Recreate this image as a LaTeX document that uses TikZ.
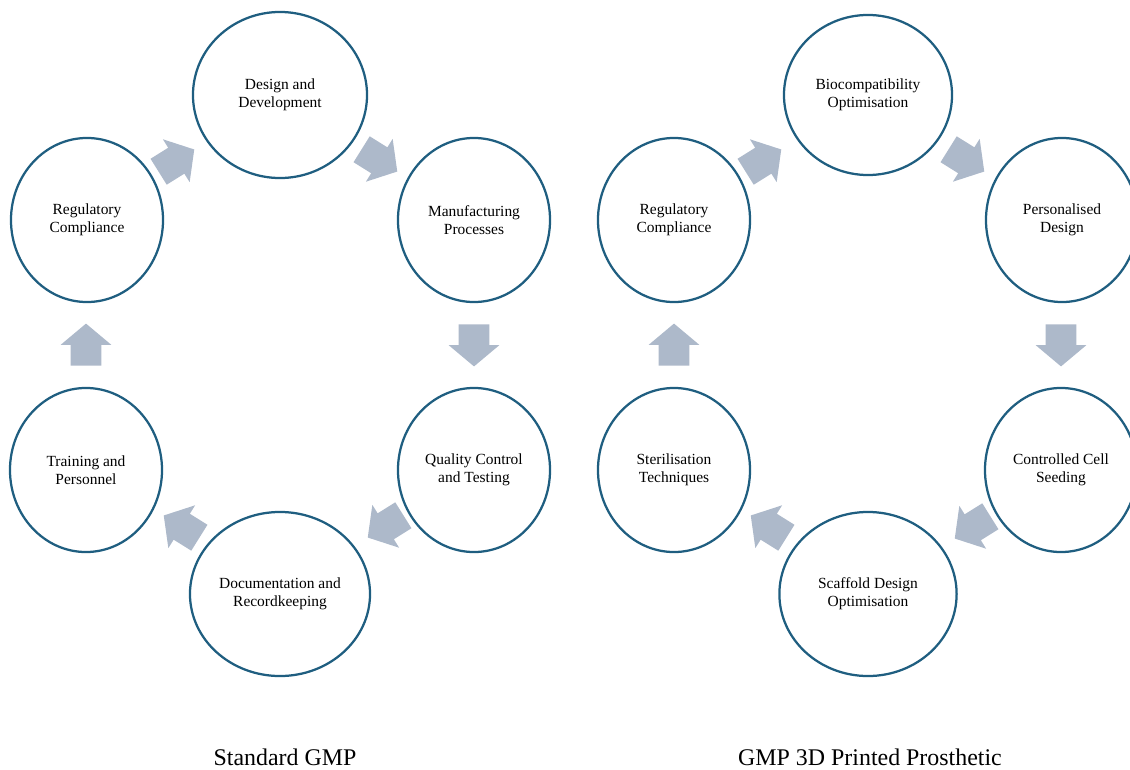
\documentclass[tikz,border=0pt]{standalone}
\usepackage{fontspec}
\setmainfont{Liberation Serif}
\usepackage{tikz}
\usetikzlibrary{shapes.geometric, shapes.arrows}
\definecolor{ringblue}{RGB}{31, 94, 128}
\definecolor{flowgrey}{RGB}{173, 185, 202}
\tikzstyle{stage} = [ellipse, draw=ringblue, line width=1.6pt, fill=white, minimum width=3.8cm, minimum height=4.1cm, inner sep=0pt, align=center, font=\fontsize{11}{12.6}\selectfont]
\tikzstyle{flow} = [single arrow, draw=none, fill=flowgrey, minimum height=1.05cm, inner xsep=0pt, inner ysep=0.375cm, single arrow head extend=0.25cm, single arrow tip angle=100]
\tikzstyle{caption} = [anchor=base, font=\fontsize{17}{20}\selectfont]

\begin{document}
\begin{tikzpicture}[x=0.025cm, y=-0.025cm]
    \useasboundingbox (0,0) rectangle (1130,769);

    % Standard GMP cycle
    \node[stage, minimum width=4.35cm, minimum height=4.15cm] (design) at (280, 95) {Design and\\Development};
    \node[stage] (manufacturing) at (474, 220) {Manufacturing\\Processes};
    \node[stage] (quality) at (474, 470) {Quality Control\\and Testing};
    \node[stage, minimum width=4.5cm] (documentation) at (280, 594) {Documentation and\\Recordkeeping};
    \node[stage] (training) at (86, 470) {Training and\\Personnel};
    \node[stage] (regulatory) at (87, 220) {Regulatory\\Compliance};

    \node[flow, rotate=32] (a1) at (171, 164) {};
    \node[flow, rotate=-32] (a2) at (374, 157) {};
    \node[flow, rotate=-90] (a3) at (474, 339) {};
    \node[flow, rotate=212] (a4) at (391, 523) {};
    \node[flow, rotate=148] (a5) at (187, 530) {};
    \node[flow, rotate=90] (a6) at (86, 351) {};

    % GMP 3D printed prosthetic cycle
    \node[stage, minimum width=4.2cm, minimum height=4.0cm] (biocompat) at (868, 95) {Biocompatibility\\Optimisation};
    \node[stage] (personalised) at (1062, 220) {Personalised\\Design};
    \node[stage] (seeding) at (1061, 470) {Controlled Cell\\Seeding};
    \node[stage, minimum width=4.43cm] (scaffold) at (868, 594) {Scaffold Design\\Optimisation};
    \node[stage] (sterilisation) at (674, 470) {Sterilisation\\Techniques};
    \node[stage] (regulatory2) at (674, 220) {Regulatory\\Compliance};

    \node[flow, rotate=32] (b1) at (758, 164) {};
    \node[flow, rotate=-32] (b2) at (961, 157) {};
    \node[flow, rotate=-90] (b3) at (1061, 339) {};
    \node[flow, rotate=212] (b4) at (978, 524) {};
    \node[flow, rotate=148] (b5) at (774, 530) {};
    \node[flow, rotate=90] (b6) at (674, 351) {};

    % Titles
    \node[caption] (std) at (285, 765) {Standard GMP};
    \node[caption] (prosthetic) at (870, 765) {GMP 3D Printed Prosthetic};
\end{tikzpicture}
\end{document}
